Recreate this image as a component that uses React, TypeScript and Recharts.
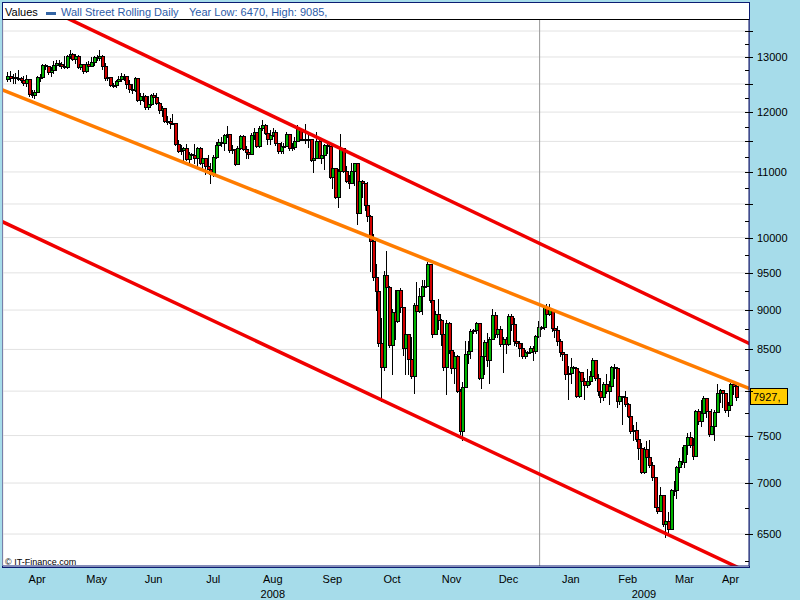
import { ComposedChart, Bar, XAxis, YAxis, CartesianGrid, ReferenceLine } from "recharts";

const BG = "#a6dcea";
const FRAME = "#0c1c72";
const UP = "#00b400";
const DOWN = "#d20000";
const FONT = "'Liberation Sans', Arial, sans-serif";

// one row per weekday, 1 Apr 2008 .. 14 Apr 2009 (10 Apr 2009 missing)
const opens = [
  12590, 12654, 12608, 12627, 12609, 12612, 12577, 12527, 12582, 12325, 12302, 12362, 12619, 12620, 12849, 12825, 12721, 12763, 12849, 12891, 12871, 12832,
  12820, 13010, 13058, 12969, 13020, 12814, 12866, 12745, 12876, 12832, 12898, 12992, 12986, 13028, 12828, 12601, 12625, 12480, 12490, 12548, 12594, 12646,
  12638, 12503, 12402, 12391, 12604, 12209, 12280, 12289, 12083, 12141, 12307, 12269, 12160, 12029, 12063, 11842, 11842, 11807, 11811, 11453, 11346,
  11350, 11382, 11216, 11288, 11280, 11231, 11384, 11147, 11229, 11100, 11055, 10962, 11239, 11446, 11496, 11467, 11602, 11632, 11349, 11370, 11131, 11397, 11583,
  11378, 11326, 11284, 11615, 11656, 11431, 11734, 11782, 11642, 11532, 11615, 11659, 11479, 11348, 11417, 11430, 11628, 11386, 11413, 11502, 11715,
  11543, 11540, 11516, 11532, 11188, 11220, 11511, 11231, 11268, 11434, 11421, 10917, 11059, 10609, 11019, 11388, 11015, 10854, 10825, 11022, 11143, 10365,
  10851, 10831, 10483, 10325, 9955, 9447, 9258, 8579, 8290, 9470, 9311, 8560, 8979, 8852, 9266, 9034, 8519, 8691, 8378, 8175, 9065, 8990, 9180,
  9325, 9319, 9625, 9139, 8695, 8943, 8870, 8693, 8283, 8835, 8497, 8273, 8424, 7997, 7552, 8046, 8443, 8479, 8727, 8740,
  8829, 8149, 8419, 8592, 8376, 8635, 8934, 8691, 8761, 8565, 8629, 8565, 8924, 8824, 8604, 8579, 8519, 8419, 8468, 8470, 8515, 8483, 8668,
  8776, 8780, 9034, 8953, 9015, 8769, 8742, 8599, 8474, 8448, 8200, 8212, 8281, 8270, 7949, 8228, 8123, 8077, 8116, 8175, 8375, 8149,
  8001, 7936, 8078, 8000, 8063, 8280, 8270, 7888, 7939, 7933, 7850, 7720, 7553, 7556, 7465, 7366, 7115, 7351, 7270, 7182,
  7063, 6763, 6726, 6876, 6594, 6627, 6547, 6926, 6930, 7170, 7224, 7217, 7395, 7486, 7400, 7278, 7776, 7660, 7750, 7924, 7776, 7522,
  7609, 7761, 7978, 8017, 7975, 7789, 7837, 8083, 8058,
];
const highs = [
  12720, 12740, 12680, 12700, 12760, 12630, 12640, 12660, 12582, 12390, 12400, 12640, 12680, 12870, 12870, 12840, 12820, 12920, 12940, 12940, 12900, 13010,
  13030, 13140, 13080, 13050, 13030, 12900, 12870, 12900, 12920, 13000, 13010, 13040, 13140, 13030, 12880, 12690, 12630, 12520, 12580, 12640, 12700, 12690,
  12640, 12580, 12500, 12620, 12604, 12340, 12340, 12300, 12290, 12320, 12340, 12330, 12170, 12110, 12063, 11930, 11900, 11960, 11811, 11520, 11440,
  11400, 11460, 11330, 11310, 11450, 11400, 11400, 11270, 11229, 11270, 11150, 11270, 11490, 11540, 11580, 11630, 11760, 11632, 11440, 11380, 11420, 11600, 11600,
  11420, 11380, 11640, 11720, 11660, 11760, 11870, 11800, 11670, 11700, 11720, 11700, 11480, 11490, 11470, 11660, 11630, 11480, 11580, 11780, 11720,
  11560, 11790, 11600, 11532, 11250, 11650, 11550, 11360, 11450, 11490, 11421, 11090, 11059, 11050, 11626, 11390, 11100, 10950, 11140, 11150, 11143, 10870,
  10870, 10831, 10840, 10330, 10050, 9630, 9430, 8900, 9520, 9800, 9320, 9020, 9270, 9270, 9300, 9034, 8760, 8691, 8660, 9090, 9370, 9290, 9400,
  9400, 9654, 9625, 9139, 8990, 9150, 8880, 8693, 8870, 8840, 8560, 8470, 8430, 8030, 8110, 8600, 8600, 8760, 8760, 8840,
  8829, 8430, 8620, 8700, 8660, 9010, 8970, 8880, 8800, 8660, 8650, 8950, 8950, 8900, 8780, 8600, 8580, 8490, 8480, 8540, 8540, 8680, 8860,
  8800, 9065, 9080, 9085, 9015, 8800, 8800, 8630, 8550, 8448, 8300, 8400, 8300, 8290, 8240, 8230, 8160, 8260, 8240, 8400, 8375, 8200,
  8020, 8110, 8200, 8120, 8300, 8320, 8280, 8010, 7940, 8000, 7860, 7730, 7620, 7650, 7470, 7420, 7380, 7440, 7450, 7220,
  7063, 6870, 6960, 6876, 6760, 6710, 6940, 7020, 7180, 7260, 7380, 7400, 7530, 7540, 7470, 7780, 7790, 7900, 7940, 7924, 7776, 7790,
  7780, 8080, 8030, 8017, 7975, 7880, 8100, 8090, 8080,
];
const lows = [
  12560, 12560, 12520, 12520, 12580, 12530, 12480, 12470, 12290, 12270, 12240, 12362, 12560, 12620, 12770, 12690, 12650, 12700, 12760, 12840, 12800, 12800,
  12790, 12990, 12940, 12880, 12800, 12780, 12700, 12720, 12790, 12830, 12850, 12940, 12950, 12780, 12580, 12580, 12460, 12450, 12450, 12500, 12560, 12580,
  12420, 12350, 12330, 12380, 12190, 12150, 12190, 12060, 12060, 12130, 12180, 12150, 11990, 11930, 11820, 11800, 11730, 11790, 11440, 11330, 11290,
  11160, 11200, 11130, 11260, 11150, 11100, 11130, 11050, 10960, 11040, 10827, 10930, 11220, 11380, 11420, 11360, 11580, 11330, 11300, 11110, 11130, 11380, 11350,
  11220, 11230, 11284, 11540, 11410, 11400, 11700, 11620, 11450, 11450, 11590, 11440, 11310, 11300, 11300, 11430, 11360, 11350, 11380, 11500, 11520,
  11520, 11480, 11400, 11180, 11000, 11220, 11220, 11150, 11050, 11300, 10910, 10740, 10590, 10459, 11019, 11000, 10840, 10750, 10825, 10800, 10200, 10365,
  10600, 10410, 10250, 9525, 9400, 9000, 8540, 7882, 8250, 9250, 8530, 8200, 8630, 8850, 8980, 8430, 8200, 8200, 8150, 7980, 8880, 8980, 8950,
  9230, 9319, 9100, 8650, 8695, 8750, 8560, 8250, 7965, 8450, 8210, 8100, 7990, 7520, 7449, 8046, 8330, 8390, 8700, 8700,
  8140, 8040, 8200, 8300, 8090, 8635, 8650, 8660, 8540, 8230, 8460, 8560, 8740, 8560, 8540, 8420, 8400, 8400, 8450, 8450, 8370, 8460, 8660,
  8760, 8760, 8890, 8940, 8730, 8650, 8560, 8420, 8370, 8140, 7910, 8090, 8260, 7930, 7930, 7990, 7910, 8050, 8080, 8175, 8130, 7950,
  7880, 7900, 7980, 7850, 8050, 8160, 7820, 7850, 7630, 7830, 7700, 7530, 7450, 7440, 7250, 7100, 7100, 7140, 7170, 7030,
  6760, 6700, 6726, 6580, 6470, 6520, 6547, 6880, 6850, 7110, 7200, 7160, 7300, 7380, 7250, 7278, 7630, 7600, 7750, 7700, 7490, 7520,
  7450, 7761, 7870, 7820, 7760, 7720, 7837, 7970, 7900,
];
const closes = [
  12654, 12608, 12627, 12609, 12612, 12577, 12527, 12582, 12325, 12302, 12362, 12619, 12620, 12849, 12825, 12721, 12763, 12849, 12891, 12871, 12832, 12820,
  13010, 13058, 12969, 13020, 12814, 12866, 12745, 12876, 12832, 12898, 12992, 12986, 13028, 12828, 12601, 12625, 12480, 12490, 12548, 12594, 12646, 12638,
  12503, 12402, 12391, 12604, 12209, 12280, 12289, 12083, 12141, 12307, 12269, 12160, 12029, 12063, 11842, 11842, 11807, 11811, 11453, 11346, 11350,
  11382, 11216, 11288, 11280, 11231, 11384, 11147, 11229, 11100, 11055, 10962, 11239, 11446, 11496, 11467, 11602, 11632, 11349, 11370, 11131, 11397, 11583, 11378,
  11326, 11284, 11615, 11656, 11431, 11734, 11782, 11642, 11532, 11615, 11659, 11479, 11348, 11417, 11430, 11628, 11386, 11413, 11502, 11715, 11543,
  11540, 11516, 11532, 11188, 11220, 11511, 11231, 11268, 11434, 11421, 10917, 11059, 10609, 11019, 11388, 11015, 10854, 10825, 11022, 11143, 10365, 10851,
  10831, 10483, 10325, 9955, 9447, 9258, 8579, 8290, 9470, 9311, 8560, 8979, 8852, 9266, 9034, 8519, 8691, 8378, 8175, 9065, 8990, 9180, 9325,
  9319, 9625, 9139, 8695, 8943, 8870, 8693, 8283, 8835, 8497, 8273, 8424, 7997, 7552, 8046, 8443, 8479, 8727, 8740, 8829,
  8149, 8419, 8592, 8376, 8635, 8934, 8691, 8761, 8565, 8629, 8565, 8924, 8824, 8604, 8579, 8519, 8419, 8468, 8470, 8515, 8483, 8668, 8776,
  8780, 9034, 8953, 9015, 8769, 8742, 8599, 8474, 8448, 8200, 8212, 8281, 8270, 7949, 8228, 8123, 8077, 8116, 8175, 8375, 8149, 8001,
  7936, 8078, 8000, 8063, 8280, 8270, 7888, 7939, 7933, 7850, 7720, 7553, 7556, 7465, 7366, 7115, 7351, 7270, 7182, 7063,
  6763, 6726, 6876, 6594, 6627, 6547, 6926, 6930, 7170, 7224, 7217, 7395, 7486, 7400, 7278, 7776, 7660, 7750, 7924, 7776, 7522, 7609,
  7761, 7978, 8017, 7975, 7789, 7837, 8083, 8058, 7927,
];

// row index where each month starts, and where its label sits
const monthStarts = [0, 22, 44, 65, 88, 109, 131, 154, 174, 197, 219, 239, 261];
const monthLabelAt = [11, 33, 54, 76, 98, 120, 142, 164, 185, 208, 229, 250, 267];
const monthLabels = ["Apr", "May", "Jun", "Jul", "Aug", "Sep", "Oct", "Nov", "Dec", "Jan", "Feb", "Mar", "Apr"];
const yearLabelAt = [98, 235];
const yearLabels = ["2008", "2009"];
const newYearIdx = 197;

const yGrid = [6500, 7000, 7500, 8000, 8500, 9000, 9500, 10000, 10500, 11000, 11500, 12000, 12500, 13000, 13500];
const yLabelled = [6500, 7000, 7500, 8500, 9000, 9500, 10000, 11000, 12000, 13000];
const yTicks = [
  6250, 6500, 6750, 7000, 7250, 7500, 7750, 8000, 8250, 8500, 8750, 9000, 9250, 9500, 9750,
  10000, 10250, 10500, 10750, 11000, 11250, 11500, 11750, 12000, 12250, 12500, 12750, 13000, 13250, 13500,
];

// hand drawn trend lines (index, price)
const upperChannel = [{ x: -10, y: 14609 }, { x: 280, y: 8476 }];
const midLine = [{ x: -10, y: 12554 }, { x: 280, y: 7953 }];
const lowerChannel = [{ x: -10, y: 10389 }, { x: 280, y: 6075 }];

const seriesName = "Wall Street Rolling Daily";
const yearInfo = "Year Low: 6470, High: 9085,";

const X_DOMAIN = [-1.6, 273.8];
const Y_DOMAIN = [6205, 13718];

const rows = closes.map((c, i) => ({
  i,
  o: opens[i],
  h: highs[i],
  l: lows[i],
  c,
  range: [lows[i], highs[i]],
}));
const lastClose = closes[closes.length - 1];

const Candle = (props: any) => {
  const { x, y, width, height, payload } = props;
  if (x == null || y == null || !payload) return null;
  const { o, h, l, c } = payload;
  const top = Math.min(y, y + height);
  const bottom = Math.max(y, y + height);
  const span = Math.log(h) - Math.log(l);
  // log axis: place open/close inside the high-low bar
  const toY = (v: number) => (span > 0 ? top + ((bottom - top) * (Math.log(h) - Math.log(v))) / span : top);
  const px = Math.round(x + width / 2);
  const yo = toY(o);
  const yc = toY(c);
  const bTop = Math.round(Math.min(yo, yc));
  const bBot = Math.round(Math.max(yo, yc));
  return (
    <g shapeRendering="crispEdges">
      <line x1={px + 0.5} x2={px + 0.5} y1={Math.round(top)} y2={Math.round(bottom) + 1} stroke="#000" />
      <rect
        x={px - 0.5}
        y={bTop + 0.5}
        width={3}
        height={Math.max(bBot - bTop, 1)}
        fill={c >= o ? UP : DOWN}
        stroke="#000"
      />
    </g>
  );
};

const PriceTick = (props: any) => {
  const { x, y, payload } = props;
  const v = payload.value;
  const yy = Math.round(y) + 0.5;
  return (
    <g>
      <line x1={x - 4} x2={yGrid.includes(v) ? x + 4 : x} y1={yy} y2={yy} stroke="#000" shapeRendering="crispEdges" />
      {yLabelled.includes(v) && (
        <text x={x + 8} y={y} dy="0.36em" fontSize={11} fontFamily={FONT} fill="#000">
          {v}
        </text>
      )}
    </g>
  );
};

const PriceTag = (props: any) => {
  const vb = props.viewBox;
  if (!vb) return null;
  const x = Math.round(vb.x + vb.width) + 1;
  const y = Math.round(vb.y);
  return (
    <g>
      <rect x={x + 0.5} y={y - 8.5} width={37} height={16} fill="#ffcc00" stroke="#000" shapeRendering="crispEdges" />
      <text x={x + 3} y={y + 4} fontSize={11} fontFamily={FONT} fill="#000">
        {lastClose},
      </text>
    </g>
  );
};

const legendText = {
  position: "absolute" as const,
  top: 7,
  fontFamily: FONT,
  fontSize: 11,
  lineHeight: "11px",
  whiteSpace: "nowrap" as const,
};

export default function App() {
  return (
    <div style={{ position: "fixed", left: 0, top: 0, width: 800, height: 600, background: BG, overflow: "hidden" }}>
      {/* white panel with the legend strip */}
      <div
        style={{
          position: "absolute",
          left: 2,
          top: 2,
          width: 748,
          height: 566,
          background: "#fff",
          border: `1px solid ${FRAME}`,
          boxSizing: "border-box",
        }}
      />
      <div style={{ position: "absolute", left: 3, top: 19, width: 746, height: 1, background: "#000" }} />
      <div style={{ ...legendText, left: 5, color: "#000" }}>Values</div>
      <div style={{ position: "absolute", left: 46, top: 12, width: 10, height: 3, background: "#3465a4" }} />
      <div style={{ ...legendText, left: 61, color: "#2d5ca8" }}>{seriesName}</div>
      <div style={{ ...legendText, left: 189, color: "#2d5ca8" }}>{yearInfo}</div>

      <div style={{ position: "absolute", left: 0, top: 0 }}>
        <ComposedChart width={800} height={600} data={rows} margin={{ top: 20, right: 0, bottom: 0, left: 3 }}>
          <CartesianGrid stroke="#e2e2e2" horizontalValues={yGrid} />
          <XAxis
            dataKey="i"
            type="number"
            domain={X_DOMAIN}
            allowDataOverflow
            ticks={monthStarts.map((m) => m - 0.5)}
            interval={0}
            tick={false}
            tickSize={4}
            height={1}
            axisLine={{ stroke: FRAME }}
            tickLine={{ stroke: "#000" }}
          />
          <XAxis
            xAxisId="m"
            dataKey="i"
            type="number"
            domain={X_DOMAIN}
            allowDataOverflow
            ticks={monthLabelAt}
            interval={0}
            tickFormatter={(v) => monthLabels[monthLabelAt.indexOf(v)] ?? ""}
            tick={{ fontSize: 11, fill: "#000", fontFamily: FONT }}
            tickSize={5}
            tickMargin={3}
            height={16}
            axisLine={false}
            tickLine={false}
          />
          <XAxis
            xAxisId="yr"
            dataKey="i"
            type="number"
            domain={X_DOMAIN}
            allowDataOverflow
            ticks={yearLabelAt}
            interval={0}
            tickFormatter={(v) => yearLabels[yearLabelAt.indexOf(v)] ?? ""}
            tick={{ fontSize: 11, fill: "#000", fontFamily: FONT }}
            tickSize={4}
            tickMargin={3}
            height={17}
            axisLine={false}
            tickLine={false}
          />
          <YAxis
            orientation="right"
            scale="log"
            domain={Y_DOMAIN}
            allowDataOverflow
            ticks={yTicks}
            interval={0}
            width={51}
            tickSize={0}
            tickMargin={0}
            tickLine={false}
            axisLine={{ stroke: FRAME }}
            tick={<PriceTick />}
          />
          <ReferenceLine x={newYearIdx - 0.5} stroke="#999" />
          <Bar dataKey="range" isAnimationActive={false} barSize={3} shape={(p: any) => <Candle {...p} />} />
          <ReferenceLine segment={upperChannel} stroke="#f00000" strokeWidth={3.5} ifOverflow="hidden" />
          <ReferenceLine segment={midLine} stroke="#ff7c00" strokeWidth={3.5} ifOverflow="hidden" />
          <ReferenceLine segment={lowerChannel} stroke="#f00000" strokeWidth={3.5} ifOverflow="hidden" />
          <ReferenceLine y={lastClose} stroke="none" label={<PriceTag />} />
        </ComposedChart>
      </div>

      <div
        style={{
          position: "absolute",
          left: 5,
          top: 558,
          fontFamily: FONT,
          fontSize: 9,
          lineHeight: "9px",
          color: "#000",
          whiteSpace: "nowrap",
        }}
      >
        © IT-Finance.com
      </div>
    </div>
  );
}
